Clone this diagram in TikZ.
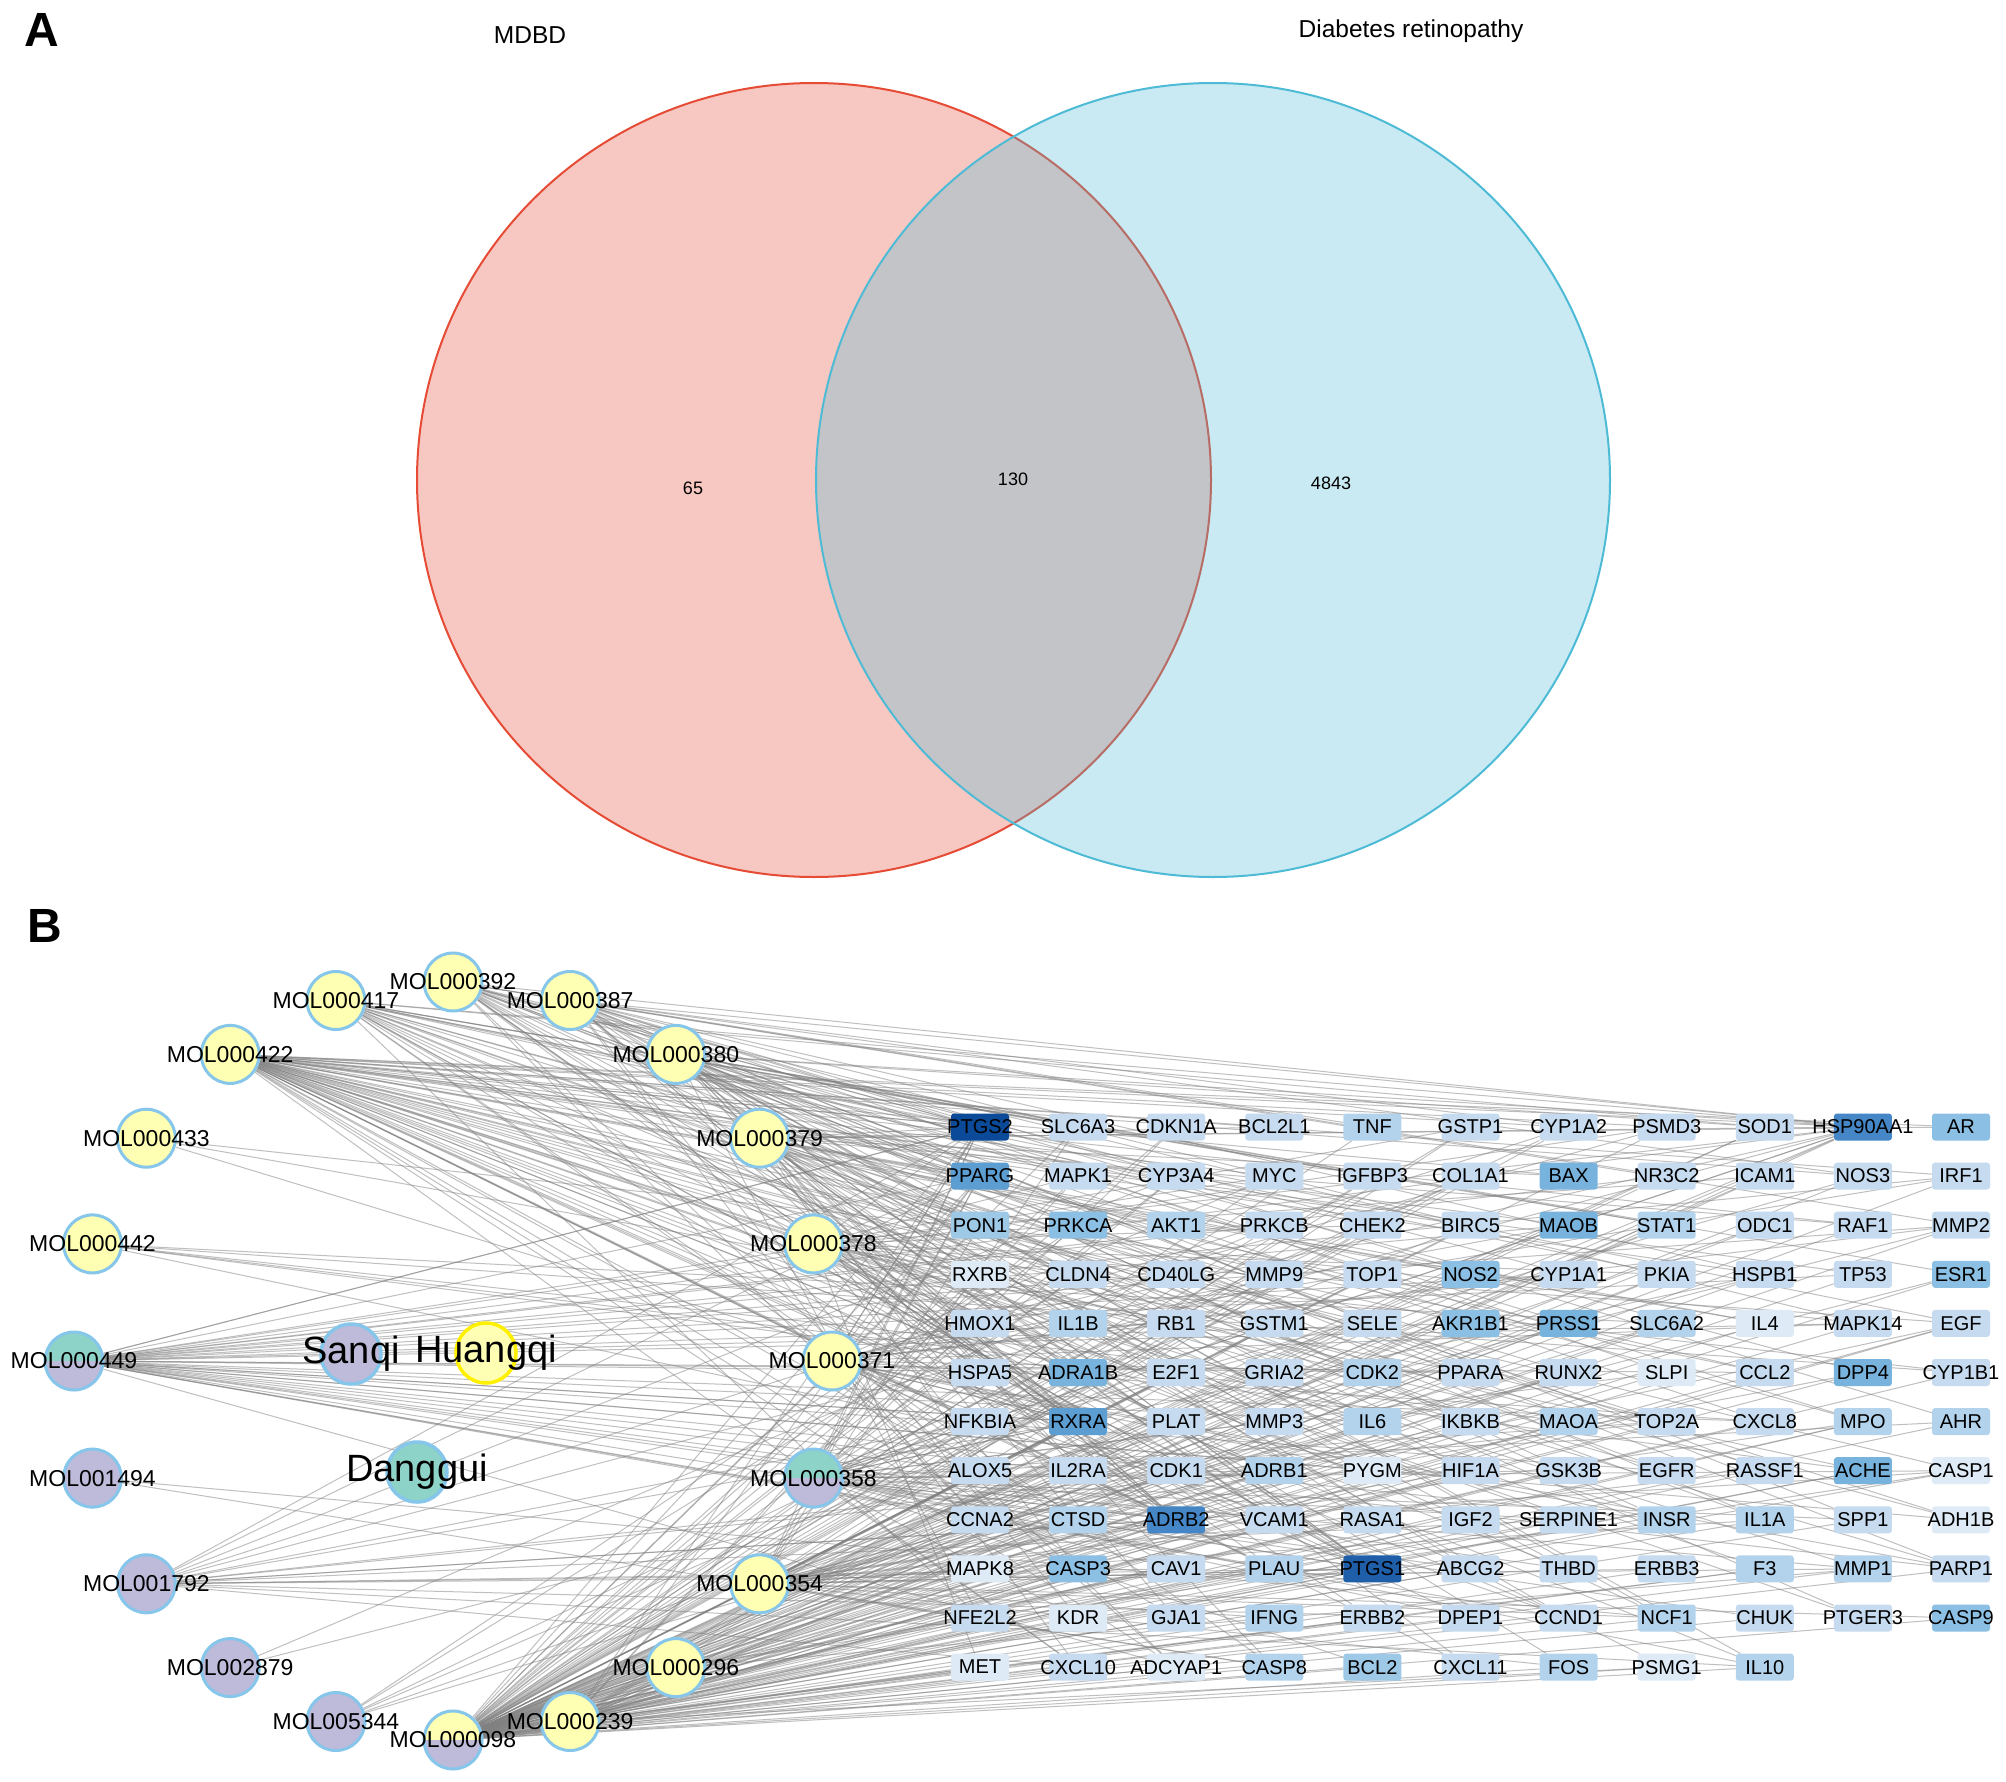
\documentclass[tikz,border=0pt]{standalone}
\usepackage{fontspec}
\setmainfont{Liberation Sans}
\usetikzlibrary{backgrounds}
\pgfdeclarelayer{edges}
\pgfsetlayers{background,edges,main}

\definecolor{vennred}{HTML}{E64B35}
\definecolor{vennblue}{HTML}{4DBBD5}
\definecolor{cyel}{HTML}{FFFFB3}
\definecolor{cpur}{HTML}{BEBADA}
\definecolor{cteal}{HTML}{8DD3C7}
\definecolor{molb}{HTML}{85C6EA}
\definecolor{hqb}{HTML}{FFF000}
\definecolor{gc0}{HTML}{DEEBF7}
\definecolor{gc1}{HTML}{C6DBEF}
\definecolor{gc2}{HTML}{B3D3EC}
\definecolor{gc3}{HTML}{9DC8E6}
\definecolor{gc4}{HTML}{8BBFE3}
\definecolor{gc5}{HTML}{78B3DD}
\definecolor{gc6}{HTML}{5C9DD2}
\definecolor{gc7}{HTML}{4587C6}
\definecolor{gc8}{HTML}{1F5FAA}
\definecolor{gc9}{HTML}{0B4A98}

\newcommand\genefont{\fontsize{20}{24}\selectfont}
\newcommand\molfont{\fontsize{23}{27}\selectfont}
\newcommand\herbfont{\fontsize{38}{45}\selectfont}
\newcommand\vennfont{\fontsize{24.5}{29}\selectfont}
\newcommand\numfont{\fontsize{18}{22}\selectfont}
\newcommand\panelfont{\fontsize{48}{56}\selectfont\bfseries}

\tikzset{
  vennset/.style={circle, minimum size=794pt, inner sep=0pt, line width=2pt, draw=#1, fill=#1, fill opacity=0.3},
  vtitle/.style={font=\vennfont, inner sep=0pt},
  vnum/.style={font=\numfont, inner sep=0pt},
  panel/.style={font=\panelfont, inner sep=0pt},
  mol/.style={circle, draw=molb, line width=3pt, minimum size=58pt, inner sep=0pt,
              label={[font=\molfont, inner sep=0pt]center:#1}},
  herb/.style={circle, draw=molb, line width=3.5pt, minimum size=60pt, inner sep=0pt,
              label={[font=\herbfont, inner sep=0pt]center:#1}},
  tophalf/.style={path picture={\fill[#1] (path picture bounding box.north west) rectangle (path picture bounding box.east);}},
  gene/.style={rectangle, rounded corners=3pt, minimum width=58pt, minimum height=27pt, inner sep=0pt},
  lnk/.style={draw=black!50, draw opacity=0.5, line width=1pt},
}

\begin{document}
\begin{tikzpicture}[x=1pt,y=-1pt]
\useasboundingbox (0,0) rectangle (2006,1782);
\begin{pgfonlayer}{background}
\fill[white] (0,0) rectangle (2006,1782);
\end{pgfonlayer}

% ---------- Panel A ----------
\node[panel] (pA) at (42,30) {A};
\node[vennset=vennred] (setA) at (814,480) {};
\node[vennset=vennblue] (setB) at (1213,480) {};
\node[vtitle] (tA) at (530,35) {MDBD};
\node[vtitle] (tB) at (1411,31) {Diabetes retinopathy};
\node[vnum] (n1) at (693,488) {65};
\node[vnum] (n2) at (1013,479) {130};
\node[vnum] (n3) at (1331,483) {4843};

% ---------- Panel B ----------
\node[panel] (pB) at (45,926) {B};

% molecules on a ring
\node[mol=MOL000392, fill=cyel] (m0) at (453,982) {};
\node[mol=MOL000387, fill=cyel] (m1) at (570.1,1000.5) {};
\node[mol=MOL000380, fill=cyel] (m2) at (675.8,1054.4) {};
\node[mol=MOL000379, fill=cyel] (m3) at (759.6,1138.2) {};
\node[mol=MOL000378, fill=cyel] (m4) at (813.5,1243.9) {};
\node[mol=MOL000371, fill=cyel] (m5) at (832,1361) {};
\node[mol=MOL000358, fill=cpur, tophalf=cteal] (m6) at (813.5,1478.1) {};
\node[mol=MOL000354, fill=cyel] (m7) at (759.6,1583.8) {};
\node[mol=MOL000296, fill=cyel] (m8) at (675.8,1667.6) {};
\node[mol=MOL000239, fill=cyel] (m9) at (570.1,1721.5) {};
\node[mol=MOL000098, fill=cpur, tophalf=cyel] (m10) at (453,1740) {};
\node[mol=MOL005344, fill=cpur] (m11) at (335.9,1721.5) {};
\node[mol=MOL002879, fill=cpur] (m12) at (230.2,1667.6) {};
\node[mol=MOL001792, fill=cpur] (m13) at (146.4,1583.8) {};
\node[mol=MOL001494, fill=cpur] (m14) at (92.5,1478.1) {};
\node[mol=MOL000449, fill=cpur, tophalf=cteal] (m15) at (74,1361) {};
\node[mol=MOL000442, fill=cyel] (m16) at (92.5,1243.9) {};
\node[mol=MOL000433, fill=cyel] (m17) at (146.4,1138.2) {};
\node[mol=MOL000422, fill=cyel] (m18) at (230.2,1054.4) {};
\node[mol=MOL000417, fill=cyel] (m19) at (335.9,1000.5) {};

% herbs
\node[herb=Sanqi, fill=cpur] (sq) at (351,1354) {};
\node[herb=Huangqi, fill=cyel, draw=hqb] (hq) at (486,1353) {};
\node[herb=Danggui, fill=cteal] (dg) at (417,1472) {};

% genes
\foreach \g/\lv [count=\j] in {
 PTGS2/9, SLC6A3/1, CDKN1A/1, BCL2L1/1, TNF/2, GSTP1/1, CYP1A2/1, PSMD3/1, SOD1/1, HSP90AA1/7, AR/4,
 PPARG/6, MAPK1/1, CYP3A4/1, MYC/1, IGFBP3/1, COL1A1/1, BAX/5, NR3C2/1, ICAM1/1, NOS3/1, IRF1/1,
 PON1/3, PRKCA/4, AKT1/2, PRKCB/1, CHEK2/1, BIRC5/1, MAOB/5, STAT1/2, ODC1/1, RAF1/1, MMP2/1,
 RXRB/0, CLDN4/1, CD40LG/1, MMP9/1, TOP1/1, NOS2/4, CYP1A1/1, PKIA/1, HSPB1/1, TP53/1, ESR1/4,
 HMOX1/1, IL1B/2, RB1/1, GSTM1/1, SELE/1, AKR1B1/4, PRSS1/5, SLC6A2/2, IL4/0, MAPK14/1, EGF/1,
 HSPA5/1, ADRA1B/5, E2F1/1, GRIA2/1, CDK2/2, PPARA/1, RUNX2/1, SLPI/0, CCL2/1, DPP4/5, CYP1B1/1,
 NFKBIA/1, RXRA/6, PLAT/1, MMP3/1, IL6/2, IKBKB/1, MAOA/2, TOP2A/1, CXCL8/1, MPO/2, AHR/2,
 ALOX5/1, IL2RA/1, CDK1/1, ADRB1/2, PYGM/0, HIF1A/1, GSK3B/1, EGFR/1, RASSF1/1, ACHE/5, CASP1/0,
 CCNA2/1, CTSD/2, ADRB2/7, VCAM1/1, RASA1/1, IGF2/1, SERPINE1/1, INSR/2, IL1A/2, SPP1/1, ADH1B/0,
 MAPK8/0, CASP3/4, CAV1/1, PLAU/2, PTGS1/8, ABCG2/1, THBD/1, ERBB3/1, F3/2, MMP1/2, PARP1/1,
 NFE2L2/1, KDR/0, GJA1/1, IFNG/2, ERBB2/1, DPEP1/1, CCND1/1, NCF1/2, CHUK/1, PTGER3/1, CASP9/4,
 MET/0, CXCL10/1, ADCYAP1/0, CASP8/2, BCL2/3, CXCL11/1, FOS/2, PSMG1/0, IL10/2} {
  \pgfmathtruncatemacro\gi{\j-1}
  \pgfmathsetmacro\gx{980+mod(\gi,11)*98.1}
  \pgfmathsetmacro\gy{1127+floor(\gi/11)*49.1}
  \node[gene, fill=gc\lv, label={[font=\genefont, inner sep=0pt]center:\g}] (g\gi) at (\gx,\gy) {};
}

% edges (molecule -- target)
\begin{pgfonlayer}{edges}
\foreach \k/\degr in {0/20, 1/18, 2/22, 3/22, 4/18, 5/20, 6/30, 7/30, 8/4, 9/22, 10/118,
                      11/6, 12/2, 13/12, 14/2, 15/32, 16/6, 17/3, 18/52, 19/20} {
  \foreach \jj in {0,...,129} {
    \pgfmathtruncatemacro\rr{mod(\jj*37+\k*53,130)}
    \ifnum\rr<\degr\relax \draw[lnk] (m\k) -- (g\jj);\fi
  }
}
\foreach \jj in {0,103,9,90,11,67} {
  \foreach \k in {0,1,2,3,4,5,6,7,9,13,15,18,19} {
    \draw[lnk] (m\k) -- (g\jj);
  }
}
\end{pgfonlayer}
\end{tikzpicture}
\end{document}
